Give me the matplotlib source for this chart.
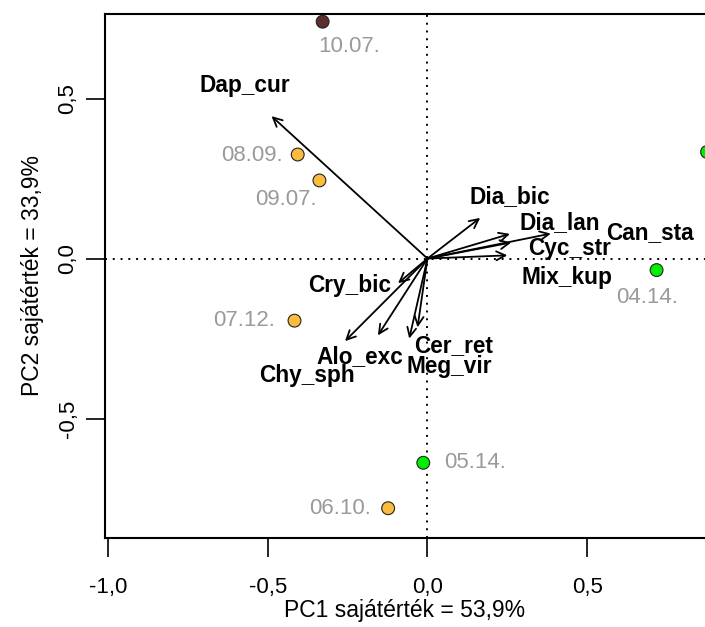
import matplotlib.pyplot as plt
import numpy as np

plt.rcParams['font.family'] = ['Liberation Sans', 'DejaVu Sans']

# sample scores (PC1, PC2)
dates = ['10.07.', '08.09.', '09.07.', '07.12.', '06.10.', '05.14.', '04.14.', '03.04.']
pc1 = [-0.328, -0.406, -0.338, -0.416, -0.123, -0.013, 0.717, 0.875]
pc2 = [0.740, 0.325, 0.244, -0.194, -0.780, -0.638, -0.036, 0.333]
point_colors = ['#5c2e2e', '#fbbb3c', '#fbbb3c', '#fbbb3c', '#fbbb3c', '#00ee00', '#00ee00', '#00ee00']
# label offsets (points) from each sample
date_offsets = [(19, -18), (-11, -1), (-24, -14), (-14, 0), (-12, 0), (15, 0), (-7, -20), (-14, -3)]
date_ha = ['center', 'right', 'center', 'right', 'right', 'left', 'center', 'right']

# species loadings
species = ['Dap_cur', 'Dia_bic', 'Dia_lan', 'Can_sta', 'Cyc_str', 'Mix_kup',
           'Cry_bic', 'Alo_exc', 'Chy_sph', 'Cer_ret', 'Meg_vir']
load1 = [-0.488, 0.165, 0.386, 0.258, 0.262, 0.250, -0.092, -0.155, -0.258, -0.057, -0.031]
load2 = [0.445, 0.127, 0.078, 0.077, 0.050, 0.010, -0.077, -0.240, -0.258, -0.250, -0.215]
label_x = [-0.572, 0.258, 0.415, 0.695, 0.446, 0.435, -0.243, -0.213, -0.376, 0.083, 0.069]
label_y = [0.540, 0.193, 0.111, 0.080, 0.030, -0.058, -0.083, -0.306, -0.364, -0.271, -0.337]

fig = plt.figure(figsize=(7.05, 6.27), dpi=100)
ax = fig.add_axes([105 / 705, 89 / 627, 600 / 705, 524 / 627])
ax.set_xlim(-1.009, 0.8685)
ax.set_ylim(-0.873, 0.764)

ax.axhline(0, color='black', lw=1.4, linestyle=(0, (1, 3)), zorder=1)
ax.axvline(0, color='black', lw=1.4, linestyle=(0, (1, 3)), zorder=1)

for x, y in zip(load1, load2):
    ax.annotate('', xy=(x, y), xytext=(0, 0),
                arrowprops=dict(arrowstyle='->,head_length=0.65,head_width=0.32',
                                color='black', lw=1.3, shrinkA=0, shrinkB=0))
for name, x, y in zip(species, label_x, label_y):
    ax.text(x, y, name, ha='center', va='center', fontsize=16.3, fontweight='bold')

ax.scatter(pc1, pc2, s=85, c=point_colors, edgecolors='#222222', linewidths=0.8, zorder=3)
for d, x, y, off, ha in zip(dates, pc1, pc2, date_offsets, date_ha):
    ax.annotate(d, (x, y), xytext=off, textcoords='offset points', ha=ha, va='center',
                fontsize=16, color='#9a9a9a')

for side in ['left', 'bottom', 'top']:
    ax.spines[side].set_linewidth(1.5)
ax.spines['right'].set_visible(False)

ax.set_xticks([-1.0, -0.5, 0.0, 0.5], ['-1,0', '-0,5', '0,0', '0,5'])
ax.set_yticks([-0.5, 0.0, 0.5], ['-0,5', '0,0', '0,5'])
ax.tick_params(axis='x', length=14, width=1.2, pad=14, labelsize=16)
ax.tick_params(axis='y', length=14, width=1.2, pad=5, labelsize=16, labelrotation=90)
for lab in ax.get_yticklabels():
    lab.set_va('center')

ax.set_xlabel('PC1 sajátérték = 53,9%', fontsize=16.5, labelpad=1)
ax.set_ylabel('PC2 sajátérték = 33,9%', fontsize=16.5, labelpad=10)

fig.savefig('out.png', dpi=100)
